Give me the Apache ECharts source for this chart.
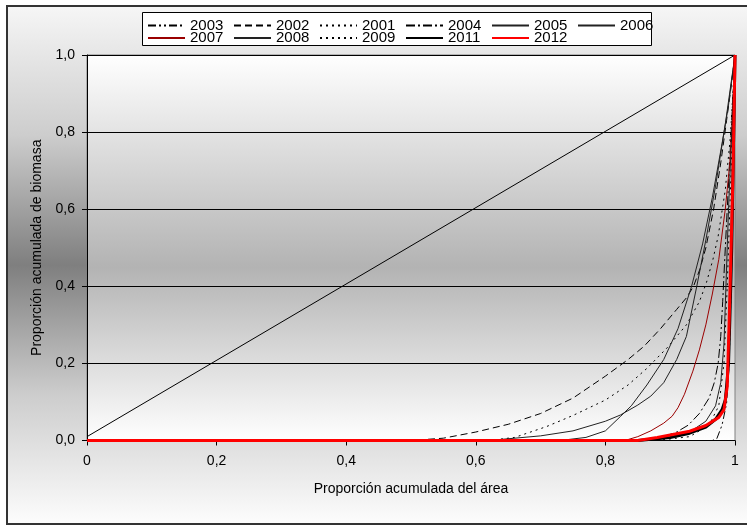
<!DOCTYPE html>
<html>
<head>
<meta charset="utf-8">
<script src="https://cdn.jsdelivr.net/npm/echarts@6/dist/echarts.min.js"></script>
<style>
html,body{margin:0;padding:0;background:#fff;}
#chart{width:747px;height:526px;}
</style>
</head>
<body>
<div id="chart"></div>
<script>
// ---- data ----
const legendRow1 = ['2003','2002','2001','2004','2005','2006'];
const legendRow2 = ['2007','2008','2009','2011','2012'];
const xTicks = [0, 0.2, 0.4, 0.6, 0.8, 1];
const yTicks = [0, 0.2, 0.4, 0.6, 0.8, 1];

const diag = [[0,0.01],[1,1]];
const s2003 = [[0,0],[0.965,0],[0.972,0.005],[0.98,0.04],[0.987,0.096],[0.991,0.2],[0.994,0.4],[0.997,0.7],[1,1]];
const s2002 = [[0,0],[0.5,0],[0.55,0.006],[0.6,0.022],[0.65,0.042],[0.7,0.07],[0.75,0.11],[0.8,0.167],[0.835,0.21],[0.86,0.245],[0.885,0.29],[0.91,0.34],[0.925,0.37],[0.936,0.4],[0.946,0.445],[0.955,0.5],[0.967,0.6],[0.978,0.72],[0.987,0.83],[0.995,0.93],[1,1]];
const s2001 = [[0,0],[0.62,0],[0.66,0.008],[0.709,0.036],[0.75,0.065],[0.8,0.105],[0.835,0.144],[0.864,0.187],[0.895,0.24],[0.925,0.3],[0.945,0.36],[0.956,0.41],[0.966,0.47],[0.974,0.53],[0.985,0.65],[0.993,0.79],[1,1]];
const s2004 = [[0,0],[0.85,0],[0.89,0.01],[0.91,0.022],[0.928,0.04],[0.945,0.07],[0.96,0.11],[0.968,0.15],[0.974,0.2],[0.978,0.27],[0.981,0.36],[0.983,0.43],[0.988,0.6],[0.994,0.8],[1,1]];
const s2005 = [[0,0],[0.62,0],[0.7,0.012],[0.75,0.025],[0.8,0.05],[0.823,0.066],[0.85,0.092],[0.87,0.115],[0.89,0.15],[0.91,0.21],[0.925,0.27],[0.941,0.4],[0.955,0.52],[0.97,0.66],[0.985,0.82],[1,1]];
const s2006 = [[0,0],[0.73,0],[0.77,0.008],[0.8,0.025],[0.823,0.062],[0.84,0.09],[0.864,0.144],[0.89,0.21],[0.912,0.29],[0.933,0.4],[0.95,0.51],[0.965,0.63],[0.98,0.77],[0.99,0.87],[1,1]];
const s2007 = [[0,0],[0.83,0],[0.85,0.01],[0.87,0.025],[0.89,0.045],[0.903,0.063],[0.912,0.085],[0.922,0.12],[0.935,0.18],[0.945,0.235],[0.955,0.3],[0.965,0.38],[0.975,0.47],[0.985,0.6],[0.992,0.72],[0.997,0.86],[1,1]];
const s2008 = [[0,0],[0.86,0],[0.9,0.008],[0.93,0.022],[0.955,0.05],[0.97,0.09],[0.978,0.15],[0.983,0.25],[0.986,0.4],[0.99,0.6],[0.995,0.8],[1,1]];
const s2009 = [[0,0],[0.88,0],[0.93,0.01],[0.96,0.04],[0.975,0.09],[0.983,0.2],[0.988,0.4],[0.994,0.7],[1,1]];
const s2011 = [[0,0],[0.85,0],[0.9,0.008],[0.93,0.019],[0.955,0.035],[0.97,0.055],[0.98,0.08],[0.985,0.105],[0.987,0.14],[0.99,0.2],[0.992,0.313],[0.995,0.5],[0.998,0.8],[1,1]];
const s2012 = [[0,0],[0.85,0],[0.88,0.008],[0.93,0.024],[0.955,0.039],[0.975,0.06],[0.983,0.08],[0.988,0.14],[0.991,0.31],[0.994,0.5],[0.997,0.7],[1,1]];

// ---- styles ----
const FONT = 'Liberation Sans, Arial, sans-serif';
const styles = {
  '2003': {color:'#000', width:1, type:[8,3,2,3,2,3]},
  '2002': {color:'#000', width:1, type:[7,4]},
  '2001': {color:'#000', width:1, type:[2,4]},
  '2004': {color:'#000', width:1, type:[9,3,2,3]},
  '2005': {color:'#222', width:1, type:'solid'},
  '2006': {color:'#222', width:1, type:'solid'},
  '2007': {color:'#9a0000', width:1, type:'solid'},
  '2008': {color:'#222', width:1, type:'solid'},
  '2009': {color:'#000', width:1, type:[2,4]},
  '2011': {color:'#000', width:3, type:'solid'},
  '2012': {color:'#ff0000', width:3, type:'solid'}
};
const dataByYear = {'2003':s2003,'2002':s2002,'2001':s2001,'2004':s2004,'2005':s2005,'2006':s2006,
  '2007':s2007,'2008':s2008,'2009':s2009,'2011':s2011,'2012':s2012};
const drawOrder = ['2001','2002','2003','2004','2005','2006','2007','2008','2009','2011','2012'];

const fmt1 = v => v.toFixed(1).replace('.', ',');
const fmtX = v => (v === 0 ? '0' : (v === 1 ? '1' : fmt1(v)));

const series = [{
  name: 'diag', type: 'line', data: diag, symbol: 'none', silent: true,
  lineStyle: {color:'#000', width:1}, z: 1
}];
drawOrder.forEach((y, i) => {
  const st = styles[y];
  series.push({
    name: y, type: 'line', data: dataByYear[y], symbol: 'none', showSymbol: false,
    smooth: false,
    lineStyle: {color: st.color, width: st.width, type: st.type},
    itemStyle: {color: 'rgba(0,0,0,0)', borderWidth: 0},
    z: 2 + i
  });
});

const legendCommon = {
  orient: 'horizontal', padding: 0, itemWidth: 37, itemHeight: 10, itemGap: 9,
  itemStyle: {color: 'rgba(0,0,0,0)', borderWidth: 0, borderColor: 'rgba(0,0,0,0)'},
  textStyle: {fontFamily: FONT, fontSize: 15, color: '#000', width: 34, lineHeight: 13}
};

const chart = echarts.init(document.getElementById('chart'), null, {renderer: 'canvas'});
chart.setOption({
  animation: false,
  backgroundColor: '#ffffff',
  graphic: [
    {type:'rect', z: -10, silent: true,
     shape: {x: 7, y: 6, width: 760, height: 518},
     style: {
       fill: new echarts.graphic.LinearGradient(0,0,0,1,[
         {offset:0, color:'#f6f6f6'},
         {offset:0.25, color:'#cdcdcd'},
         {offset:0.5, color:'#7f7f7f'},
         {offset:0.75, color:'#cdcdcd'},
         {offset:1, color:'#fdfdfd'}
       ]),
       stroke: '#333', lineWidth: 2
     }},
    {type:'rect', z: 5, silent: true,
     shape: {x: 142.5, y: 12.5, width: 509, height: 33},
     style: {fill: '#ffffff', stroke: '#000', lineWidth: 1}}
  ],
  legend: [
    Object.assign({}, legendCommon, {data: legendRow1, left: 147, top: 18, z: 10}),
    Object.assign({}, legendCommon, {data: legendRow2, left: 147, top: 30.5, z: 10})
  ],
  grid: {
    left: 87, right: 12, top: 55, bottom: 85.5, show: true,
    borderColor: '#808080', borderWidth: 1,
    backgroundColor: new echarts.graphic.LinearGradient(0,0,0,1,[
      {offset:0, color:'#ffffff'},
      {offset:0.55, color:'#b3b3b3'},
      {offset:1, color:'#ffffff'}
    ])
  },
  xAxis: {
    type: 'value', min: 0, max: 1, interval: 0.2,
    name: 'Proporción acumulada del área', nameLocation: 'middle', nameGap: 42,
    nameTextStyle: {fontFamily: FONT, fontSize: 14, color: '#000'},
    axisLine: {show: true, lineStyle: {color:'#000', width: 1}},
    axisTick: {show: true, length: 5, lineStyle: {color:'#000'}},
    axisLabel: {formatter: fmtX, fontFamily: FONT, fontSize: 14, color: '#000', margin: 14},
    splitLine: {show: false}
  },
  yAxis: {
    type: 'value', min: 0, max: 1, interval: 0.2,
    name: 'Proporción acumulada de biomasa', nameLocation: 'middle', nameGap: 38,
    nameTextStyle: {fontFamily: FONT, fontSize: 14, color: '#000'},
    axisLine: {show: true, lineStyle: {color:'#000', width: 1}},
    axisTick: {show: true, length: 5, lineStyle: {color:'#000'}},
    axisLabel: {formatter: fmt1, fontFamily: FONT, fontSize: 14, color: '#000', margin: 12},
    splitLine: {show: true, lineStyle: {color:'#000', width: 1}}
  },
  series: series
});
</script>
</body>
</html>
